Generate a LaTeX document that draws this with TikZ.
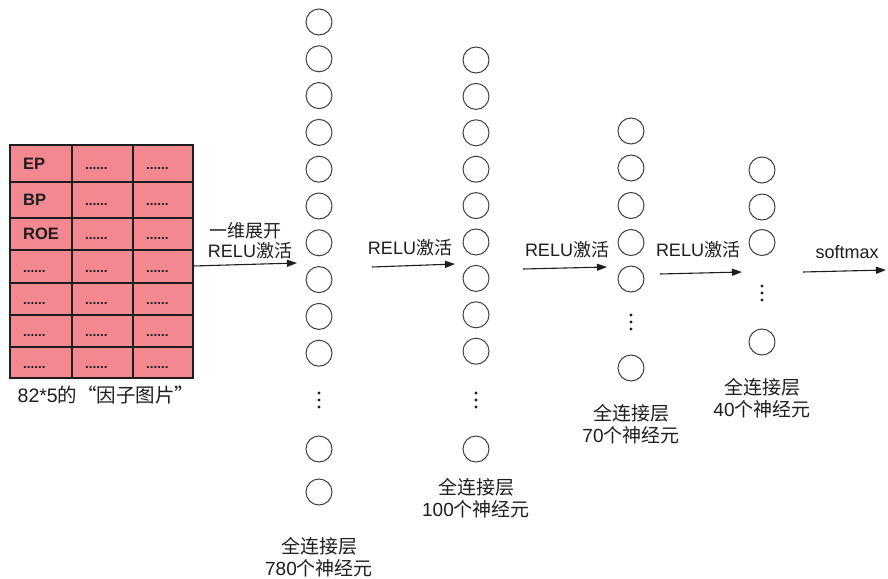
\documentclass[tikz,border=0pt]{standalone}
\usepackage{fontspec}
\setmainfont{Liberation Sans}
\newfontfamily\cjk{Noto Sans CJK SC}
\usetikzlibrary{arrows.meta}
\definecolor{cellpink}{RGB}{244,136,144}
\definecolor{ink}{RGB}{30,30,30}
\tikzset{
  neuron/.style={circle, draw=ink!85, line width=1pt, minimum size=26pt, inner sep=0pt},
  cellbox/.style={draw=ink, line width=1.3pt, fill=cellpink},
  celltext/.style={anchor=base west, inner sep=0pt, text=ink, font=\bfseries\fontsize{16.5}{18}\selectfont},
  celldots/.style={anchor=base west, inner sep=0pt, text=ink, font=\bfseries\fontsize{13.5}{15}\selectfont},
  flow/.style={-{Triangle[length=10pt,width=7pt]}, line width=1.1pt, draw=ink},
  lbl/.style={inner sep=0pt, text=ink, font=\fontsize{18}{20}\selectfont},
  layerlbl/.style={inner sep=0pt, align=center, text=ink, font=\fontsize{19}{22}\selectfont},
  vdot/.style={circle, fill=ink, inner sep=0pt, minimum size=3.2pt},
}
\begin{document}
\begin{tikzpicture}[x=1pt, y=-1pt]
\useasboundingbox (0,0) rectangle (888,578);
\fill[white] (0,0) rectangle (888,578);

% ---------- table ----------
\foreach \r/\t/\b in {1/145/182, 2/182/218, 3/218/250, 4/250/283, 5/283/315, 6/315/347, 7/347/378} {
  \foreach \c/\l/\rr in {1/10/72, 2/72/133, 3/133/193} {
    \draw[cellbox] (\l,\t) rectangle (\rr,\b);
  }
}
\foreach \r/\t/\b in {1/145/182, 2/182/218, 3/218/250, 4/250/283, 5/283/315, 6/315/347, 7/347/378} {
  \pgfmathsetmacro{\bl}{(\t+\b)/2+5.5}
  \foreach \c/\l in {2/72, 3/133} {
    \node[celldots] (t\r\c) at (\l+13,\bl) {......};
  }
}
\node[celltext] (t11) at (23,169) {EP};
\node[celltext] (t21) at (23,205.5) {BP};
\node[celltext] (t31) at (23,239.5) {ROE};
\node[celldots] (t41) at (23,272) {......};
\node[celldots] (t51) at (23,304.5) {......};
\node[celldots] (t61) at (23,336.5) {......};
\node[celldots] (t71) at (23,368) {......};
\node[lbl, font=\fontsize{19.5}{21}\selectfont] (cap) at (106,395) {82*5{\cjk 的“因子图片”}};

% ---------- layer 1 ----------
\foreach \i/\y in {1/22, 2/58.8, 3/95.6, 4/132.4, 5/169.2, 6/206, 7/242.8, 8/279.6, 9/316.4, 10/353.2, 11/449, 12/492} {
  \node[neuron] (n1-\i) at (319,\y) {};
}
\foreach \k/\d in {1/-7, 2/0, 3/7} { \node[vdot] (d1-\k) at (319,400+\d) {}; }
\node[layerlbl] (L1) at (319,557) {{\cjk 全连接层}\\780{\cjk 个神经元}};

% ---------- layer 2 ----------
\foreach \i/\y in {1/60, 2/96.4, 3/132.8, 4/169.2, 5/205.6, 6/242, 7/278.4, 8/314.8, 9/351.2, 10/449} {
  \node[neuron] (n2-\i) at (476,\y) {};
}
\foreach \k/\d in {1/-7, 2/0, 3/7} { \node[vdot] (d2-\k) at (476,400+\d) {}; }
\node[layerlbl] (L2) at (476,498.5) {{\cjk 全连接层}\\100{\cjk 个神经元}};

% ---------- layer 3 ----------
\foreach \i/\y in {1/131, 2/168, 3/205.5, 4/242.5, 5/279, 6/368} {
  \node[neuron] (n3-\i) at (631,\y) {};
}
\foreach \k/\d in {1/-7, 2/0, 3/7} { \node[vdot] (d3-\k) at (631,322+\d) {}; }
\node[layerlbl] (L3) at (631,424.5) {{\cjk 全连接层}\\70{\cjk 个神经元}};

% ---------- layer 4 ----------
\foreach \i/\y in {1/170, 2/207, 3/242.5, 4/342} {
  \node[neuron] (n4-\i) at (762,\y) {};
}
\foreach \k/\d in {1/-7, 2/0, 3/7} { \node[vdot] (d4-\k) at (762,293+\d) {}; }
\node[layerlbl] (L4) at (762,398.5) {{\cjk 全连接层}\\40{\cjk 个神经元}};

% ---------- arrows ----------
\coordinate (a1s) at (193,266); \coordinate (a1e) at (297,263);
\coordinate (a2s) at (372,267); \coordinate (a2e) at (455,264);
\coordinate (a3s) at (523,269); \coordinate (a3e) at (607,267);
\coordinate (a4s) at (660,274); \coordinate (a4e) at (742,272);
\coordinate (a5s) at (803,272); \coordinate (a5e) at (886,270);
\draw[flow] (a1s) -- (a1e);
\draw[flow] (a2s) -- (a2e);
\draw[flow] (a3s) -- (a3e);
\draw[flow] (a4s) -- (a4e);
\draw[flow] (a5s) -- (a5e);

\node[lbl] (l1a) at (245,231) {\cjk 一维展开};
\node[lbl] (l1b) at (250,251) {RELU{\cjk 激活}};
\node[lbl] (l2) at (410,248) {RELU{\cjk 激活}};
\node[lbl] (l3) at (567,250) {RELU{\cjk 激活}};
\node[lbl] (l4) at (698,250) {RELU{\cjk 激活}};
\node[lbl] (l5) at (847,252) {softmax};
\end{tikzpicture}
\end{document}
